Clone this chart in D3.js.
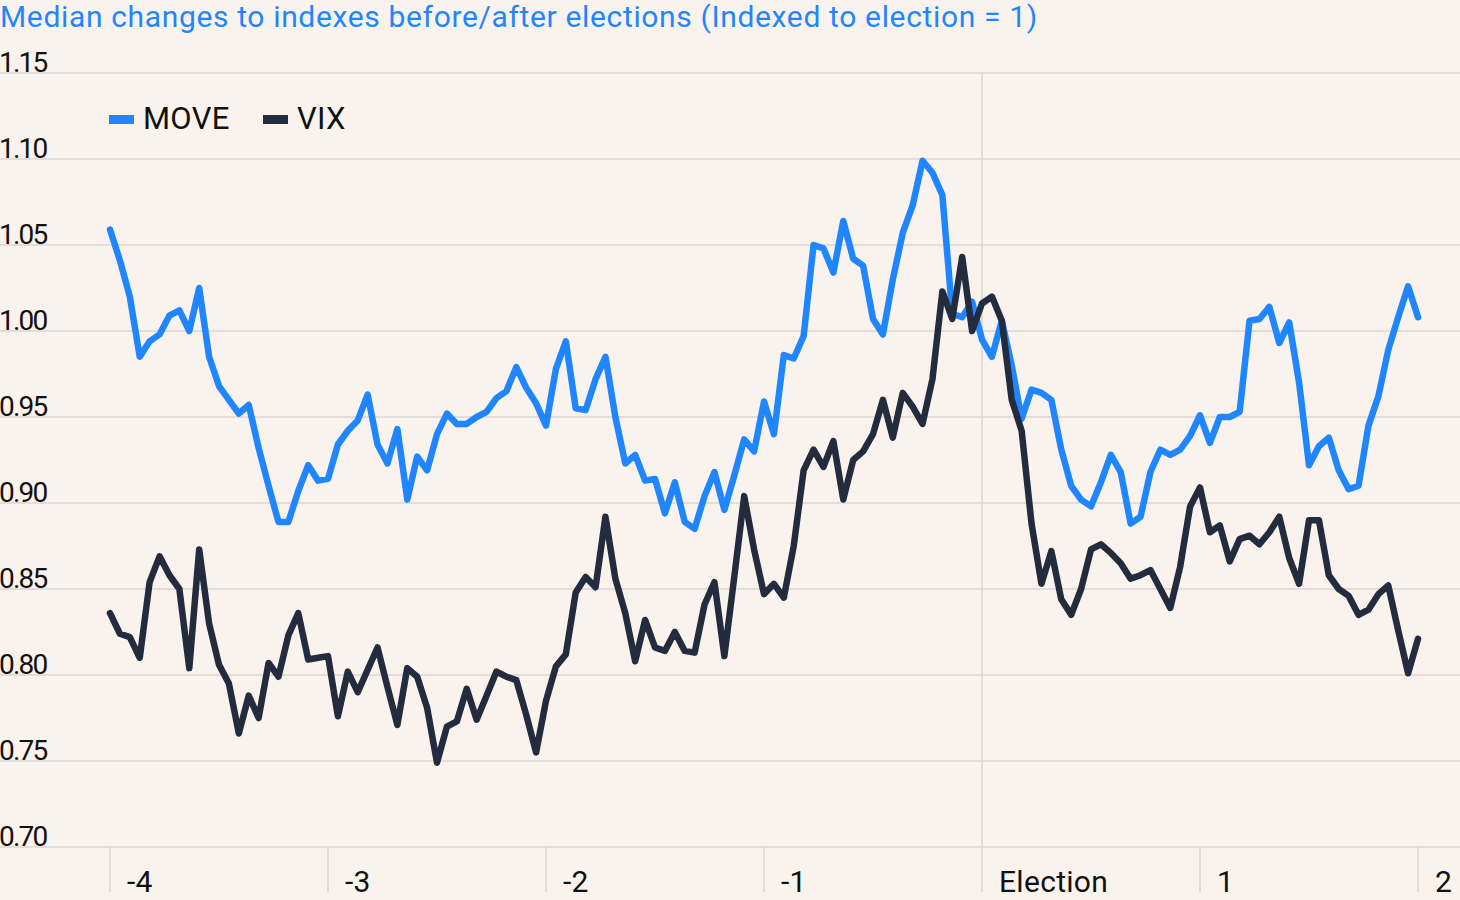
<!DOCTYPE html>
<head>
  <title>Median changes to indexes before/after elections</title>
  <style>
    body { margin: 0; background: #faf3ed; }
    text { font-family: Roboto, "Liberation Sans", sans-serif; }
    .grid { stroke: #dbd5d0; stroke-width: 1.5; }
  </style>
</head>
<body>
  <script src="https://cdn.jsdelivr.net/npm/d3@7"></script>
  <script>
    // tick labels and data (one point per trading day, 22 days per unit)
    var yTicks = [0.70, 0.75, 0.80, 0.85, 0.90, 0.95, 1.00, 1.05, 1.10, 1.15];
    var xTickDays = [0, 22, 44, 66, 88, 110, 132];
    var xTickLabels = ["-4", "-3", "-2", "-1", "Election", "1", "2"];
    var seriesNames = ["MOVE", "VIX"];

    var move = [
      1.059, 1.041, 1.020, 0.985, 0.994, 0.998, 1.009, 1.012, 1.000, 1.025,
      0.985, 0.968, 0.960, 0.952, 0.957, 0.932, 0.910, 0.889, 0.889, 0.907,
      0.922, 0.913, 0.914, 0.934, 0.942, 0.948, 0.963, 0.934, 0.923, 0.943,
      0.902, 0.927, 0.919, 0.940, 0.952, 0.946, 0.946, 0.950, 0.953, 0.961,
      0.965, 0.979, 0.967, 0.958, 0.945, 0.978, 0.994, 0.955, 0.954, 0.972,
      0.985, 0.950, 0.923, 0.928, 0.913, 0.914, 0.894, 0.912, 0.889, 0.885,
      0.904, 0.918, 0.896, 0.916, 0.937, 0.930, 0.959, 0.940, 0.986, 0.984,
      0.997, 1.050, 1.048, 1.034, 1.064, 1.042, 1.038, 1.007, 0.998, 1.030,
      1.057, 1.073, 1.099, 1.092, 1.079, 1.010, 1.008, 1.017, 0.995, 0.985,
      1.006, 0.980, 0.949, 0.966, 0.964, 0.960, 0.931, 0.910, 0.902, 0.898,
      0.912, 0.928, 0.918, 0.888, 0.892, 0.918, 0.931, 0.928, 0.931, 0.939,
      0.951, 0.935, 0.950, 0.950, 0.953, 1.006, 1.007, 1.014, 0.993, 1.005,
      0.970, 0.922, 0.933, 0.938, 0.919, 0.908, 0.910, 0.945, 0.962, 0.989,
      1.008, 1.026, 1.008
    ];

    var vix = [
      0.836, 0.824, 0.822, 0.810, 0.854, 0.869, 0.858, 0.850, 0.804, 0.873,
      0.830, 0.806, 0.795, 0.766, 0.788, 0.775, 0.807, 0.799, 0.823, 0.836,
      0.809, 0.810, 0.811, 0.776, 0.802, 0.790, 0.803, 0.816, 0.793, 0.771,
      0.804, 0.799, 0.781, 0.749, 0.770, 0.773, 0.792, 0.774, 0.788, 0.802,
      0.799, 0.797, 0.777, 0.755, 0.785, 0.805, 0.812, 0.848, 0.857, 0.851,
      0.892, 0.856, 0.836, 0.808, 0.832, 0.816, 0.814, 0.825, 0.814, 0.813,
      0.841, 0.854, 0.811, 0.857, 0.904, 0.873, 0.847, 0.853, 0.845, 0.875,
      0.919, 0.931, 0.921, 0.936, 0.902, 0.925, 0.930, 0.940, 0.960, 0.938,
      0.964, 0.956, 0.946, 0.972, 1.023, 1.007, 1.043, 1.000, 1.016, 1.020,
      1.006, 0.960, 0.942, 0.888, 0.853, 0.872, 0.844, 0.835, 0.850, 0.873,
      0.876, 0.871, 0.865, 0.856, 0.858, 0.861, 0.850, 0.839, 0.863, 0.898,
      0.909, 0.883, 0.887, 0.866, 0.879, 0.881, 0.876, 0.883, 0.892, 0.868,
      0.853, 0.890, 0.890, 0.858, 0.850, 0.846, 0.835, 0.838, 0.847, 0.852,
      0.826, 0.801, 0.821
    ];

    var colors = { MOVE: "#1f86ff", VIX: "#222c3e" };

    var width = 1460, height = 900;

    // scales: x is the trading-day index, y the indexed level
    var x = d3.scaleLinear().domain([0, 132]).range([110, 1418]);
    var y = d3.scaleLinear().domain([0.70, 1.15]).range([847, 73]);

    var svg = d3.select("body").append("svg")
        .attr("width", width)
        .attr("height", height)
        .style("display", "block");

    svg.append("rect")
        .attr("width", width)
        .attr("height", height)
        .attr("fill", "#faf3ed");

    // horizontal gridlines + y labels
    svg.selectAll(".grid-h")
        .data(yTicks)
      .enter().append("line")
        .attr("class", "grid")
        .attr("x1", 0)
        .attr("x2", width)
        .attr("y1", function(d) { return y(d); })
        .attr("y2", function(d) { return y(d); });

    svg.selectAll(".ylab")
        .data(yTicks)
      .enter().append("text")
        .attr("class", "ylab")
        .attr("x", -1)
        .attr("y", function(d) { return y(d) - 1; })
        .style("font-size", "28px")
        .style("letter-spacing", "-1.8px")
        .attr("fill", "#111")
        .text(function(d) { return d3.format(".2f")(d); });

    // x ticks (election tick runs the full height)
    svg.selectAll(".xtick")
        .data(xTickDays)
      .enter().append("line")
        .attr("class", "grid")
        .attr("x1", function(d) { return x(d); })
        .attr("x2", function(d) { return x(d); })
        .attr("y1", function(d, i) { return xTickLabels[i] === "Election" ? y(1.15) : y(0.70); })
        .attr("y2", 892);

    svg.selectAll(".xlab")
        .data(xTickDays)
      .enter().append("text")
        .attr("x", function(d) { return x(d) + 17; })
        .attr("y", 892)
        .style("font-size", "30px")
        .style("letter-spacing", "0.3px")
        .attr("fill", "#111")
        .text(function(d, i) { return xTickLabels[i]; });

    // lines
    var line = d3.line()
        .x(function(d, i) { return x(i); })
        .y(function(d) { return y(d); });

    var series = [{ name: "MOVE", values: move }, { name: "VIX", values: vix }];

    svg.selectAll(".series")
        .data(series)
      .enter().append("path")
        .attr("class", "series")
        .attr("fill", "none")
        .attr("stroke", function(d) { return colors[d.name]; })
        .attr("stroke-width", 6.5)
        .attr("stroke-linejoin", "round")
        .attr("stroke-linecap", "round")
        .attr("d", function(d) { return line(d.values); });

    // legend
    var legendX = [109, 263];
    var legend = svg.selectAll(".legend")
        .data(seriesNames)
      .enter().append("g")
        .attr("transform", function(d, i) { return "translate(" + legendX[i] + ",115)"; });

    legend.append("rect")
        .attr("width", 25)
        .attr("height", 9)
        .attr("fill", function(d) { return colors[d]; });

    legend.append("text")
        .attr("x", 34)
        .attr("y", 14)
        .style("font-size", "31px")
        .style("letter-spacing", "0.3px")
        .attr("fill", "#111")
        .text(function(d) { return d; });

    // title
    svg.append("text")
        .attr("x", 0)
        .attr("y", 27)
        .style("font-size", "30px")
        .style("letter-spacing", "0.65px")
        .attr("fill", "#1f86ff")
        .text("Median changes to indexes before/after elections (Indexed to election = 1)");
  </script>
</body>
